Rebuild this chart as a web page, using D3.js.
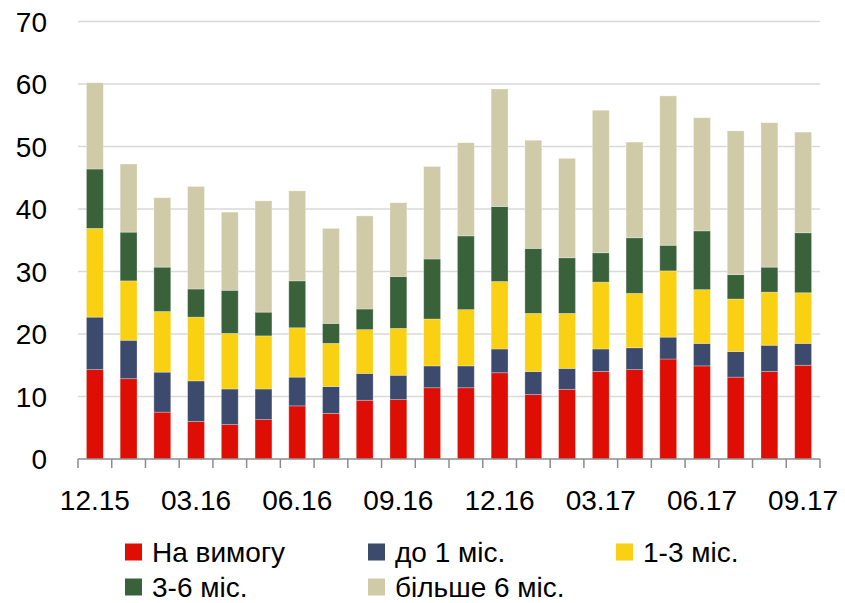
<!DOCTYPE html>
<html>
<head>
<meta charset="utf-8" />
<script src="https://d3js.org/d3.v7.min.js"></script>
<style>
  body { margin: 0; background: #fff; }
  text { font-family: "Liberation Sans", Arial, sans-serif; fill: #000; }
</style>
</head>
<body>
<div id="chart"></div>
<script>
// months on the x axis
const months = ["12.15","01.16","02.16","03.16","04.16","05.16","06.16","07.16","08.16","09.16","10.16","11.16",
                "12.16","01.17","02.17","03.17","04.17","05.17","06.17","07.17","08.17","09.17"];
const tickLabels = ["12.15","03.16","06.16","09.16","12.16","03.17","06.17","09.17"];
const yTicks = [0, 10, 20, 30, 40, 50, 60, 70];

// series values
const onDemand = [14.3,12.85,7.5,6.0,5.5,6.3,8.5,7.3,9.4,9.5,11.4,11.4,13.8,10.3,11.15,14.0,14.3,16.0,14.9,13.1,14.0,15.0];
const upTo1m   = [8.4,6.15,6.4,6.5,5.7,4.9,4.6,4.3,4.3,3.9,3.5,3.5,3.8,3.7,3.35,3.6,3.5,3.5,3.6,4.1,4.2,3.5];
const m1to3    = [14.2,9.5,9.7,10.2,8.9,8.5,7.9,6.9,7.0,7.5,7.5,9.0,10.8,9.3,8.8,10.7,8.7,10.6,8.6,8.4,8.5,8.1];
const m3to6    = [9.5,7.8,7.1,4.5,6.9,3.8,7.5,3.2,3.3,8.3,9.6,11.8,12.0,10.4,8.9,4.7,8.9,4.1,9.4,3.9,4.0,9.6];
const over6m   = [13.8,10.9,11.1,16.4,12.5,17.8,14.4,15.2,14.9,11.8,14.8,14.9,18.8,17.3,15.9,22.8,15.3,23.9,18.1,23.0,23.1,16.1];

const seriesNames = ["На вимогу", "до 1 міс.", "1-3 міс.", "3-6 міс.", "більше 6 міс."];
const seriesValues = [onDemand, upTo1m, m1to3, m3to6, over6m];
const colors = ["#DE0E04", "#3C4A6E", "#FAD012", "#3A623A", "#CFCAA7"];

const W = 845, H = 603;
const margin = { top: 21.5, left: 78, right: 25, bottom: 144 };
const plotW = W - margin.left - margin.right;
const plotH = H - margin.top - margin.bottom;

const svg = d3.select("#chart").append("svg")
  .attr("width", W).attr("height", H);

const g = svg.append("g").attr("transform", `translate(${margin.left},${margin.top})`);

const x = d3.scaleBand().domain(months).range([0, plotW]).paddingInner(0.5).paddingOuter(0.25);
const y = d3.scaleLinear().domain([0, 70]).range([plotH, 0]);

// gridlines
g.append("g").selectAll("line")
  .data(yTicks.filter(d => d > 0))
  .join("line")
  .attr("x1", 0).attr("x2", plotW)
  .attr("y1", d => y(d)).attr("y2", d => y(d))
  .attr("stroke", "#D9D9D9").attr("stroke-width", 1.5);

// y labels
g.append("g").selectAll("text")
  .data(yTicks)
  .join("text")
  .attr("x", -31).attr("y", d => y(d))
  .attr("dy", "0.36em")
  .attr("text-anchor", "end")
  .attr("font-size", 28)
  .text(d => d);

// stacked bars
const rows = months.map((m, i) => {
  const r = { month: m };
  seriesNames.forEach((s, k) => { r[s] = seriesValues[k][i]; });
  return r;
});
const stacked = d3.stack().keys(seriesNames)(rows);

g.append("g").selectAll("g")
  .data(stacked)
  .join("g")
  .attr("fill", (d, k) => colors[k])
  .selectAll("rect")
  .data(d => d)
  .join("rect")
  .attr("x", d => x(d.data.month))
  .attr("width", x.bandwidth())
  .attr("y", d => y(d[1]))
  .attr("height", d => y(d[0]) - y(d[1]))
  .attr("stroke", "rgba(255,255,255,0.35)")
  .attr("stroke-width", 0.8);

// x axis line and ticks at band boundaries
const axis = g.append("g").attr("transform", `translate(0,${plotH})`);
axis.append("line")
  .attr("x1", 0).attr("x2", plotW)
  .attr("stroke", "#8C8C8C").attr("stroke-width", 1.5);
const step = x.step();
axis.selectAll("line.tick")
  .data(d3.range(months.length + 1))
  .join("line")
  .attr("class", "tick")
  .attr("x1", i => i * step).attr("x2", i => i * step)
  .attr("y1", 0).attr("y2", 9)
  .attr("stroke", "#8C8C8C").attr("stroke-width", 1.5);

axis.selectAll("text")
  .data(tickLabels)
  .join("text")
  .attr("x", d => x(d) + x.bandwidth() / 2)
  .attr("y", 51)
  .attr("text-anchor", "middle")
  .attr("font-size", 28)
  .text(d => d);

// legend
const legendPos = [
  { x: 125, y: 552 }, { x: 368, y: 552 }, { x: 616, y: 552 },
  { x: 125, y: 587 }, { x: 368, y: 587 }
];
const legend = svg.append("g").selectAll("g")
  .data(seriesNames)
  .join("g")
  .attr("transform", (d, k) => `translate(${legendPos[k].x},${legendPos[k].y})`);
legend.append("rect")
  .attr("x", 0).attr("y", -8.5)
  .attr("width", 17).attr("height", 17)
  .attr("fill", (d, k) => colors[k]);
legend.append("text")
  .attr("x", 27).attr("y", 0)
  .attr("dy", "0.36em")
  .attr("font-size", 28)
  .text(d => d);
</script>
</body>
</html>
